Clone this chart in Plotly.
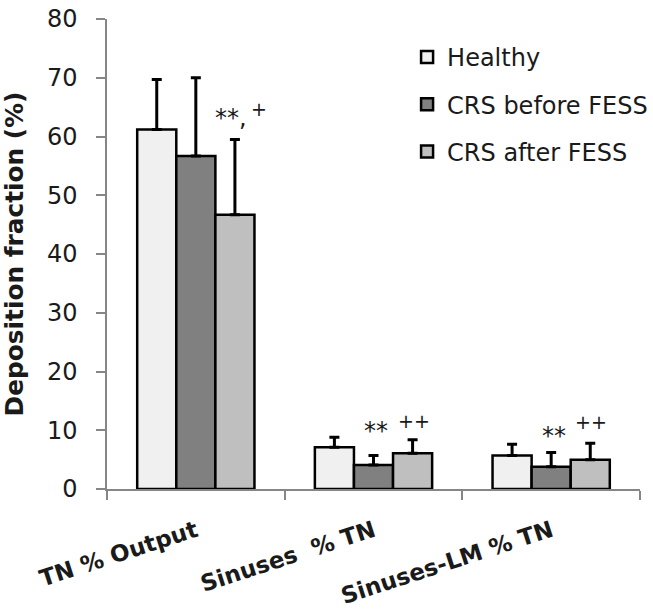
import plotly.graph_objects as go

categories = ["TN % Output", "Sinuses  % TN", "Sinuses-LM % TN"]
series_names = ["Healthy", "CRS before FESS", "CRS after FESS"]
healthy = [61.2, 7.1, 5.7]
healthy_err = [8.5, 1.7, 1.9]
crs_before = [56.7, 4.1, 3.8]
crs_before_err = [13.3, 1.6, 2.4]
crs_after = [46.7, 6.1, 5.0]
crs_after_err = [12.8, 2.3, 2.8]
colors = ["#f0f0f0", "#808080", "#bfbfbf"]

# significance marks: label, category index, bar index within group, y value
sig_labels = ["**,", "+", "**", "++", "**", "++"]
sig_cat = [0, 0, 1, 1, 2, 2]
sig_bar = [2, 2, 1, 2, 1, 2]
sig_y = [63.1, 64.6, 9.95, 11.5, 9.1, 11.4]
sig_xshift = [-4, 24, 2, 1, 3, 1]

FONT = "DejaVu Sans"
BARGAP = 0.34

fig = go.Figure()
vals = [healthy, crs_before, crs_after]
errs = [healthy_err, crs_before_err, crs_after_err]
for i, name in enumerate(series_names):
    fig.add_trace(go.Bar(
        x=categories, y=vals[i], name=name, legendgroup=name,
        marker=dict(color=colors[i], line=dict(color="black", width=2.5)),
        error_y=dict(type="data", array=errs[i], arrayminus=[0] * len(errs[i]),
                     symmetric=False, color="black", thickness=3, width=5),
    ))

bar_w = (1 - BARGAP) / 3
for lab, c, b, yv, xs in zip(sig_labels, sig_cat, sig_bar, sig_y, sig_xshift):
    size = 19 if lab.startswith("+") else 24
    fig.add_annotation(x=c + (b - 1) * bar_w, y=yv, xref="x", yref="y",
                       text=lab, showarrow=False, xshift=xs,
                       font=dict(family=FONT, size=size, color="#1a1a1a"))

fig.update_layout(
    width=653, height=612,
    margin=dict(l=107, r=13, t=19, b=123, autoexpand=False),
    paper_bgcolor="white", plot_bgcolor="white",
    barmode="group", bargap=BARGAP, bargroupgap=0,
    font=dict(family=FONT, color="#1a1a1a"),
    showlegend=True,
    legend=dict(x=0.563, y=0.966, xanchor="left", yanchor="top",
                font=dict(family=FONT, size=24, color="#1a1a1a"),
                tracegroupgap=13, bgcolor="rgba(0,0,0,0)"),
    xaxis=dict(showline=True, linecolor="#868686", linewidth=1.5, automargin=False,
               ticks="outside", tickson="boundaries", ticklen=9, tickcolor="#868686",
               tickwidth=1.5, ticklabelstandoff=18,
               tickangle=-18, tickfont=dict(family=FONT, size=23, color="#1a1a1a", weight="bold")),
    yaxis=dict(range=[0, 80], dtick=10, showline=True, linecolor="#868686", linewidth=1.5,
               automargin=False,
               ticks="outside", ticklen=9, tickcolor="#868686", tickwidth=1.5,
               showgrid=False, zeroline=False, ticklabelstandoff=14,
               tickfont=dict(family=FONT, size=24, color="#1a1a1a"),
               title=dict(text="Deposition fraction (%)", standoff=17,
                          font=dict(family=FONT, size=24.8, color="#1a1a1a", weight="bold"))),
)

fig.write_html("out.html", config={"displayModeBar": False},
               post_script="document.body.style.margin='0px';")
